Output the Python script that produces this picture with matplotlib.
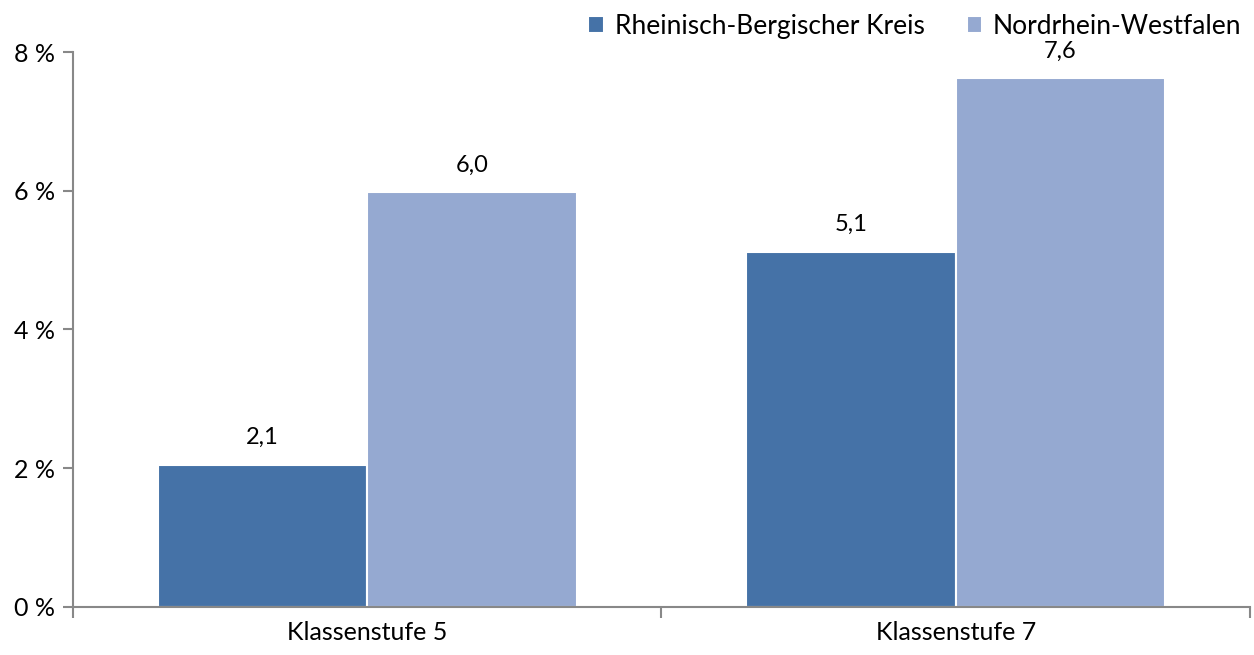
import numpy as np
import matplotlib.pyplot as plt

categories = ['Klassenstufe 5', 'Klassenstufe 7']
series_names = ['Rheinisch-Bergischer Kreis', 'Nordrhein-Westfalen']
rbk = [2.05, 5.12]
nrw = [5.98, 7.62]
labels_rbk = ['2,1', '5,1']
labels_nrw = ['6,0', '7,6']
yticks = [0, 2, 4, 6, 8]
colors = ['#4572A7', '#95A9D1']

plt.rcParams['font.family'] = ['Lato', 'DejaVu Sans']

fig = plt.figure(figsize=(12.54, 6.55), dpi=100)
ax = fig.add_axes([0.0582, 0.0733, 0.9386, 0.8473])

x = np.arange(len(categories))
w = 0.356
b1 = ax.bar(x - w / 2, rbk, w, color=colors[0], edgecolor='white', linewidth=1.5, label=series_names[0])
b2 = ax.bar(x + w / 2, nrw, w, color=colors[1], edgecolor='white', linewidth=1.5, label=series_names[1])

for bars, labs in [(b1, labels_rbk), (b2, labels_nrw)]:
    for bar, lab in zip(bars, labs):
        ax.annotate(lab, (bar.get_x() + bar.get_width() / 2, bar.get_height()),
                    xytext=(0, 12), textcoords='offset points', ha='center', va='bottom', fontsize=17)

ax.set_xlim(-0.5, 1.5)
ax.set_ylim(0, 8)
ax.set_yticks(yticks)
ax.set_yticklabels([f'{t} %' for t in yticks], fontsize=18)
ax.set_xticks(x)
ax.set_xticklabels(categories, fontsize=18)
ax.set_xticks([-0.5, 0.5, 1.5], minor=True)
ax.tick_params(axis='x', which='major', length=0, pad=10)
ax.tick_params(axis='x', which='minor', length=8, width=1.5, color='#888888')
ax.tick_params(axis='y', length=7, width=1.5, color='#888888', pad=6)

for s in ['top', 'right']:
    ax.spines[s].set_visible(False)
for s in ['left', 'bottom']:
    ax.spines[s].set_color('#888888')
    ax.spines[s].set_linewidth(1.5)

fig.legend(loc='upper right', bbox_to_anchor=(1.009, 1.015), ncol=2, frameon=False, fontsize=19,
           handlelength=0.6, handleheight=0.6, handletextpad=0.4, columnspacing=1.6)

fig.savefig('out.png', dpi=100)
